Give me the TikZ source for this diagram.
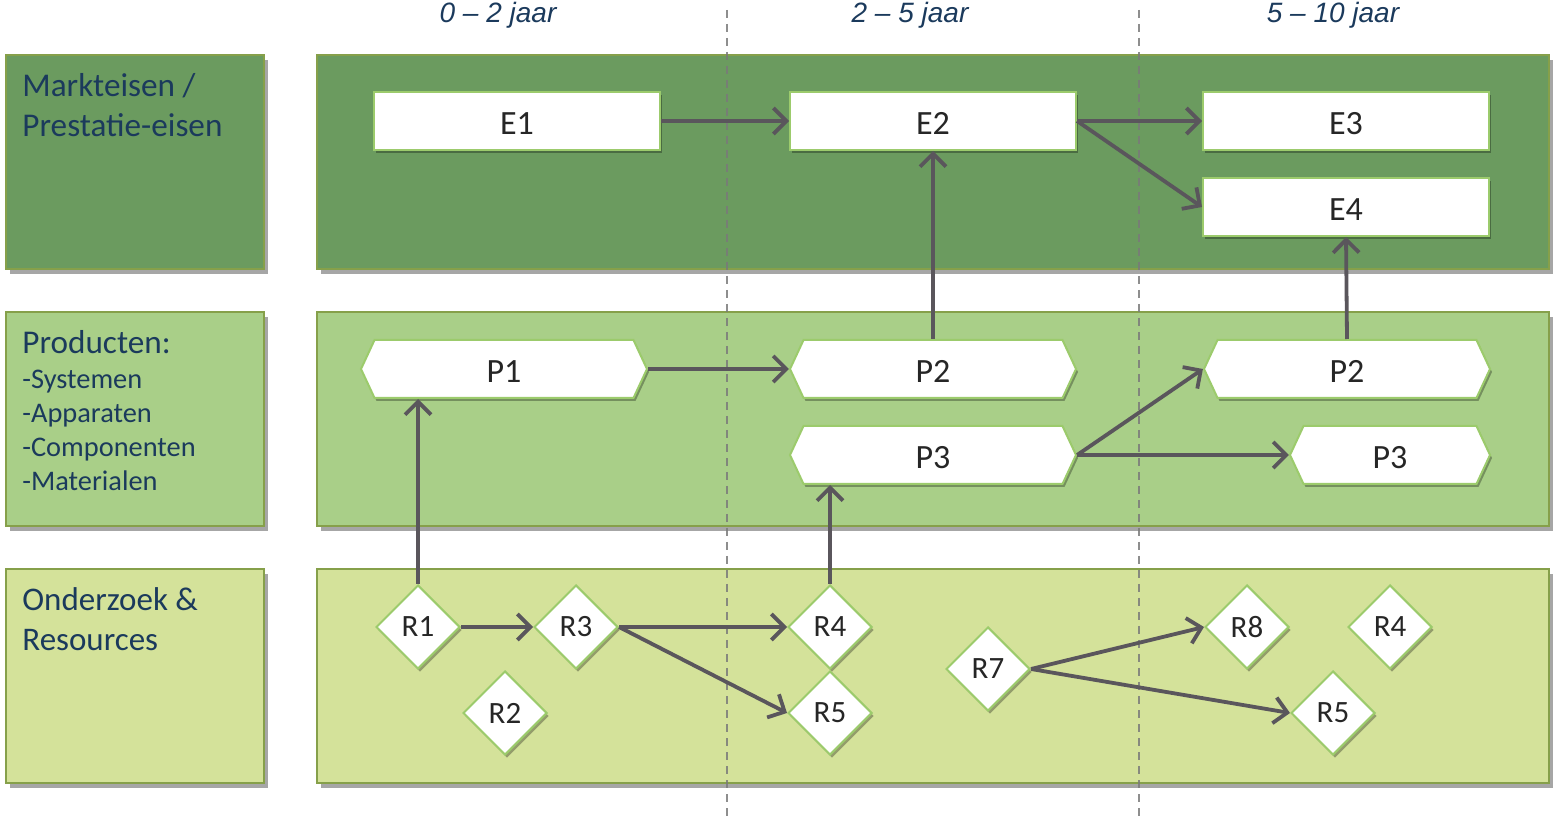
\documentclass[tikz,border=0pt]{standalone}
\usepackage{fontspec}
\setmainfont{Carlito}
\newfontfamily\hdrfont{Liberation Sans}
\usetikzlibrary{shapes.geometric,shapes.symbols,shadows,arrows.meta}
\definecolor{rowA}{HTML}{6B9B5F}
\definecolor{rowB}{HTML}{A9CF88}
\definecolor{rowC}{HTML}{D4E29A}
\definecolor{rowedge}{HTML}{86A04A}
\definecolor{nodeedge}{HTML}{9CCB6C}
\definecolor{navy}{HTML}{1B3A5C}
\definecolor{arrowgray}{HTML}{5A565C}
\definecolor{dashgray}{HTML}{7A7A7A}
\tikzset{
  rowbox/.style={draw=rowedge, line width=0.8pt, anchor=north west, inner sep=0pt,
    minimum height=107pt,
    drop shadow={shadow xshift=2pt, shadow yshift=-2.5pt, opacity=0.35, fill=black}},
  leftbox/.style={rowbox, minimum width=129pt},
  rightbox/.style={rowbox, minimum width=616pt},
  lbl/.style={anchor=north west, align=left, inner sep=0pt, text=navy},
  hdr/.style={anchor=base, font=\hdrfont\itshape\fontsize{14}{16}\selectfont, text=navy},
  ebox/.style={draw=nodeedge, line width=1pt, fill=white, minimum width=143pt, minimum height=29pt,
    font=\fontsize{17}{20}\selectfont, text=black!85, text depth=0pt, text height=14pt,
    drop shadow={shadow xshift=1pt, shadow yshift=-1.5pt, opacity=0.3, fill=black}},
  pbox/.style={signal, signal to=east and west, signal pointer angle=130,
    draw=nodeedge, line width=1pt, fill=white, minimum width=143pt, minimum height=29pt,
    inner sep=0pt, font=\fontsize{17}{20}\selectfont, text=black!85, text depth=0pt, text height=14pt,
    drop shadow={shadow xshift=1pt, shadow yshift=-1.5pt, opacity=0.3, fill=black}},
  rbox/.style={diamond, aspect=1, draw=nodeedge, line width=1pt, fill=white,
    minimum width=42pt, minimum height=42pt, inner sep=0pt,
    font=\fontsize{15.5}{18}\selectfont, text=black!85,
    drop shadow={shadow xshift=1pt, shadow yshift=-1.5pt, opacity=0.3, fill=black}},
  conn/.style={draw=arrowgray, line width=1.9pt, -{Straight Barb[length=6.5pt,width=13pt]}},
  divider/.style={draw=dashgray, line width=0.8pt, dash pattern=on 4pt off 3pt, opacity=0.85}
}
\begin{document}
\begin{tikzpicture}[x=0.5pt,y=-0.5pt]
\path[use as bounding box] (0,0) rectangle (1562,822);

% row boxes
\node[leftbox, fill=rowA] (la) at (5,54) {};
\node[leftbox, fill=rowB] (lb) at (5,311) {};
\node[leftbox, fill=rowC] (lc) at (5,568) {};
\node[rightbox, fill=rowA] (ra) at (316,54) {};
\node[rightbox, fill=rowB] (rb) at (316,311) {};
\node[rightbox, fill=rowC] (rc) at (316,568) {};

% dividers
\coordinate (d1t) at (727,10);
\coordinate (d1b) at (727,822);
\coordinate (d2t) at (1139,10);
\coordinate (d2b) at (1139,822);
\draw[divider] (d1t) -- (d1b);
\draw[divider] (d2t) -- (d2b);

% headers
\node[hdr] (h1) at (498,23) {0 – 2 jaar};
\node[hdr] (h2) at (910,23) {2 – 5 jaar};
\node[hdr] (h3) at (1333,23) {5 – 10 jaar};

% left labels
\node[lbl, font=\fontsize{16.6}{20}\selectfont] (ta) at (22,73) {Markteisen /\\Prestatie-eisen};
\node[lbl, font=\fontsize{16.6}{20}\selectfont] (tb) at (22,330) {Producten:};
\node[lbl, font=\fontsize{14.2}{17}\selectfont] (tb2) at (22,370) {-Systemen\\-Apparaten\\-Componenten\\-Materialen};
\node[lbl, font=\fontsize{16.5}{20}\selectfont] (tc) at (22,587) {Onderzoek \&\\Resources};

% E nodes
\node[ebox] (E1) at (517,121) {E1};
\node[ebox] (E2) at (933,121) {E2};
\node[ebox] (E3) at (1346,121) {E3};
\node[ebox] (E4) at (1346,207) {E4};

% P nodes
\node[pbox] (P1) at (504,369) {P1};
\node[pbox] (P2m) at (933,369) {P2};
\node[pbox] (P3m) at (933,455) {P3};
\node[pbox] (P2r) at (1347,369) {P2};
\node[pbox, minimum width=100pt] (P3r) at (1390,455) {P3};

% R nodes
\node[rbox] (R1) at (418,627) {R1};
\node[rbox] (R3) at (576,627) {R3};
\node[rbox] (R2) at (505,713) {R2};
\node[rbox] (R4) at (830,627) {R4};
\node[rbox] (R5) at (830,713) {R5};
\node[rbox] (R7) at (988,669) {R7};
\node[rbox] (R8) at (1247,627) {R8};
\node[rbox] (R4r) at (1390,627) {R4};
\node[rbox] (R5r) at (1333,713) {R5};

% connectors
\draw[conn] (E1.east) -- (E2.west);
\draw[conn] (E2.east) -- (E3.west);
\draw[conn] (E2.east) -- (E4.west);
\draw[conn] (P2m.north) -- (E2.south);
\draw[conn] (P2r.north) -- (E4.south);
\draw[conn] (P1.east) -- (P2m.west);
\draw[conn] (P3m.east) -- (P2r.west);
\draw[conn] (P3m.east) -- (P3r.west);
\draw[conn] (R1.north) -- (R1.north |- P1.south);
\draw[conn] (R1.east) -- (R3.west);
\draw[conn] (R3.east) -- (R4.west);
\draw[conn] (R3.east) -- (R5.west);
\draw[conn] (R4.north) -- (R4.north |- P3m.south);
\draw[conn] (R7.east) -- (R8.west);
\draw[conn] (R7.east) -- (R5r.west);
\end{tikzpicture}
\end{document}
